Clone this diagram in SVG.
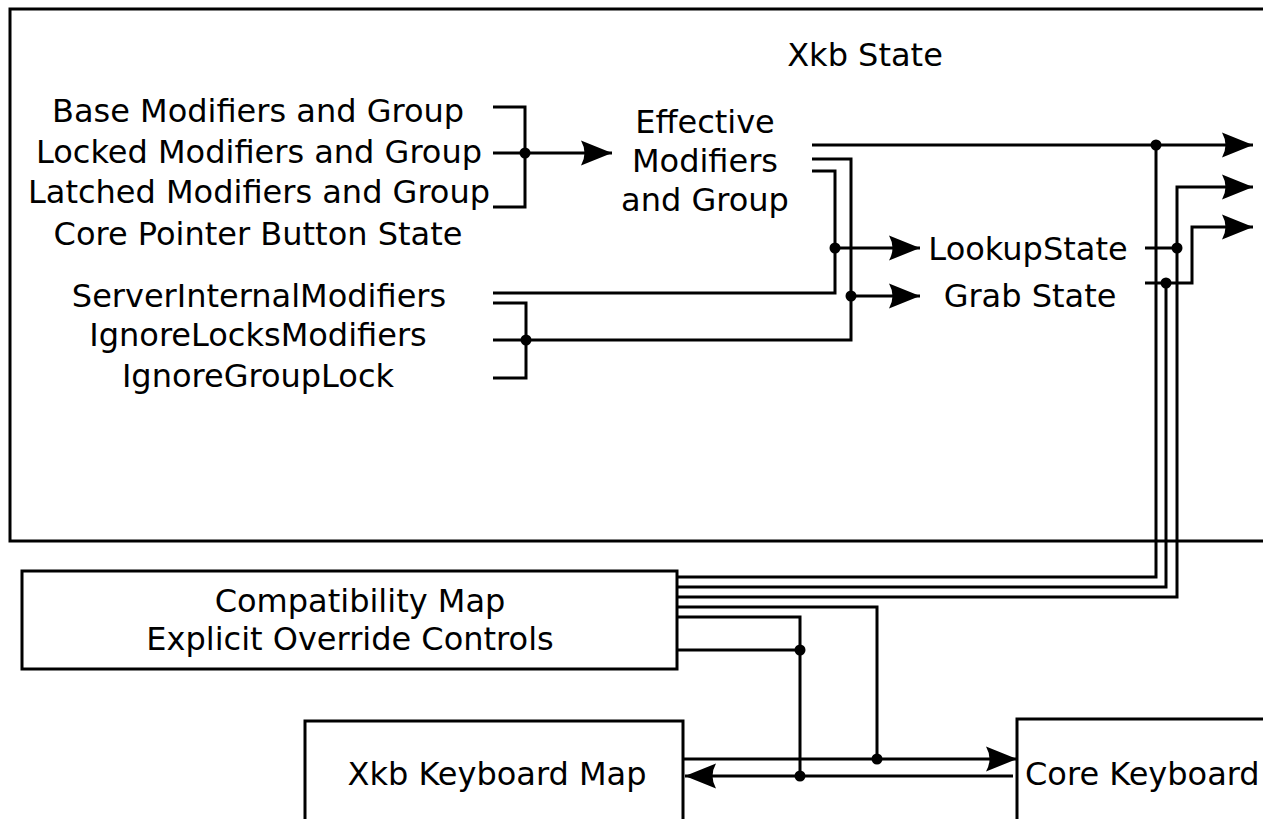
<svg xmlns="http://www.w3.org/2000/svg" width="1263" height="819" viewBox="0 0 1263 819">
  <style>
    .box { fill: none; stroke: #000; stroke-width: 3; }
    .wire { fill: none; stroke: #000; stroke-width: 3; stroke-linejoin: miter; }
    .arrow { fill: none; stroke: #000; stroke-width: 3; marker-end: url(#head); }
    .dot { fill: #000; }
    text { font-family: "DejaVu Sans", "Liberation Sans", sans-serif; font-size: 32px; fill: #000; }
    .c { text-anchor: middle; }
  </style>
  <defs>
    <marker id="head" markerUnits="userSpaceOnUse" markerWidth="34" markerHeight="28" viewBox="-32 -14 34 28" refX="0" refY="0" orient="auto">
      <path d="M0,0 L-31,-12.5 Q-24,0 -31,12.5 Z" fill="#000"/>
    </marker>
  </defs>

  <!-- Xkb State container -->
  <g id="xkb-state">
    <rect class="box" x="10" y="9" width="1280" height="532"/>
    <text class="c" x="865" y="66">Xkb State</text>
  </g>

  <g id="state-components">
    <text class="c" x="258" y="122">Base Modifiers and Group</text>
    <text class="c" x="259" y="163">Locked Modifiers and Group</text>
    <text class="c" x="259" y="203">Latched Modifiers and Group</text>
    <text class="c" x="258" y="245">Core Pointer Button State</text>
  </g>

  <g id="server-controls">
    <text class="c" x="259" y="307">ServerInternalModifiers</text>
    <text class="c" x="258" y="346">IgnoreLocksModifiers</text>
    <text class="c" x="258" y="387">IgnoreGroupLock</text>
  </g>

  <g id="effective">
    <text class="c" x="705" y="133">Effective</text>
    <text class="c" x="705" y="172">Modifiers</text>
    <text class="c" x="705" y="211">and Group</text>
  </g>

  <g id="lookup-state">
    <text class="c" x="1028" y="260">LookupState</text>
  </g>

  <g id="grab-state">
    <text class="c" x="1030" y="307">Grab State</text>
  </g>

  <g id="compat-map">
    <rect class="box" x="22" y="571" width="655" height="98"/>
    <text class="c" x="360" y="612">Compatibility Map</text>
    <text class="c" x="350" y="650">Explicit Override Controls</text>
  </g>

  <g id="xkb-keyboard-map">
    <path class="box" d="M305,830 V721 H683 V830"/>
    <text class="c" x="497" y="785">Xkb Keyboard Map</text>
  </g>

  <g id="core-keyboard">
    <path class="box" d="M1017,830 V719 H1290"/>
    <text x="1025" y="785">Core Keyboard</text>
  </g>

  <g id="connectors">
    <!-- base / locked / latched bracket into effective state -->
    <path class="wire" d="M493,107 H525 V207 H493"/>
    <path class="arrow" d="M493,153 H612"/>
    <circle class="dot" cx="525" cy="153" r="5.5"/>

    <!-- server controls bracket -->
    <path class="wire" d="M493,303 H526 V378 H493"/>
    <path class="wire" d="M493,340 H851 V159 H812"/>
    <path class="wire" d="M493,293 H835 V171 H812"/>
    <circle class="dot" cx="526" cy="340" r="5.5"/>

    <!-- effective state to lookup / grab -->
    <path class="arrow" d="M835,248 H920"/>
    <circle class="dot" cx="835" cy="248" r="5.5"/>
    <path class="arrow" d="M851,296 H920"/>
    <circle class="dot" cx="851" cy="296" r="5.5"/>

    <!-- outputs to the right -->
    <path class="arrow" d="M812,145 H1253"/>
    <circle class="dot" cx="1156" cy="145" r="5.5"/>
    <path class="wire" d="M1156,145 V577 H677"/>

    <path class="wire" d="M1145,248 H1177"/>
    <path class="arrow" d="M677,597 H1177 V187 H1253"/>
    <circle class="dot" cx="1177" cy="248" r="5.5"/>

    <path class="arrow" d="M1145,283 H1192 V227 H1253"/>
    <path class="wire" d="M1166,283 V587 H677"/>
    <circle class="dot" cx="1166" cy="283" r="5.5"/>

    <!-- compatibility map to keyboard maps -->
    <path class="wire" d="M677,607 H877 V759"/>
    <path class="wire" d="M677,617 H800 V776"/>
    <path class="wire" d="M677,650 H800"/>
    <circle class="dot" cx="800" cy="650" r="5.5"/>

    <path class="arrow" d="M683,759 H1017"/>
    <circle class="dot" cx="877" cy="759" r="5.5"/>
    <path class="arrow" d="M1013,776 H685"/>
    <circle class="dot" cx="800" cy="776" r="5.5"/>
  </g>
</svg>
